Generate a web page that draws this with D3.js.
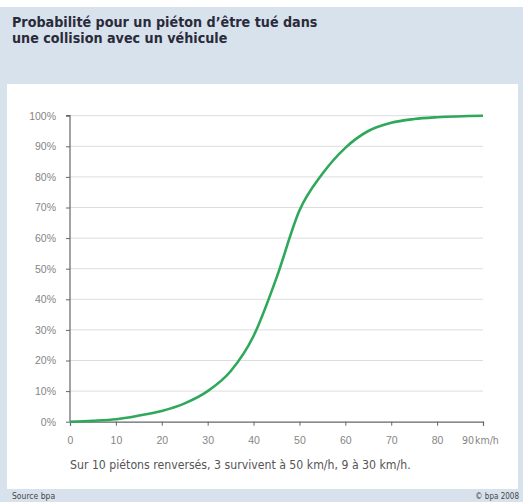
<!DOCTYPE html>
<html>
<head>
<meta charset="utf-8">
<script src="https://cdn.jsdelivr.net/npm/d3@7"></script>
<style>
html, body { margin: 0; padding: 0; background: #fff; }
svg { display: block; font-family: "Liberation Sans Narrow", "DejaVu Sans Condensed", "Open Sans", sans-serif; }
</style>
</head>
<body>
<div id="chart"></div>
<script>
'use strict';

let speeds = [0, 5, 10, 15, 20, 25, 30, 35, 40, 45, 50, 55, 60, 65, 70, 75, 80, 90];
let probs = [0, 0.3, 0.8, 2, 3.5, 6, 10, 16.5, 28, 47, 69, 81, 89.5, 95, 97.7, 98.9, 99.5, 100];
let xticks = [0, 10, 20, 30, 40, 50, 60, 70, 80, 90];
let yticks = [0, 10, 20, 30, 40, 50, 60, 70, 80, 90, 100];
let title = ['Probabilité pour un piéton d\u2019être tué dans', 'une collision avec un véhicule'];
let caption = 'Sur 10 piétons renversés, 3 survivent à 50 km/h, 9 à 30 km/h.';

let W = 523, H = 502;
let svg = d3.select('#chart')
	.append('svg')
		.attr('width', W)
		.attr('height', H)
	;

svg.append('rect').attr('x', 0).attr('y', 7).attr('width', W).attr('height', H - 7).attr('fill', '#d8e2ec');
svg.append('rect').attr('x', 7).attr('y', 84).attr('width', 511).attr('height', 405).attr('fill', '#fff');

let tt = svg.append('text')
	.attr('x', 12)
	.attr('y', 27)
	.attr('fill', '#2a2b3a')
	.attr('font-size', 14.2)
	.attr('font-weight', 'bold')
	;
for (let i=0 ; i<title.length ; ++i) {
	tt.append('tspan').attr('x', 12).attr('dy', i ? 16 : 0).text(title[i]);
}

let x = d3.scaleLinear().domain([0, 90]).range([70, 483]);
let y = d3.scaleLinear().domain([0, 100]).range([421.7, 115.7]);

// grid
svg.append('g')
	.selectAll('line')
	.data(yticks.slice(1))
	.join('line')
		.attr('x1', x(0))
		.attr('x2', x(90))
		.attr('y1', d => y(d))
		.attr('y2', d => y(d))
		.attr('stroke', '#dcdcdc')
		.attr('stroke-width', 1)
	;

let yax = svg.append('g')
	.attr('transform', 'translate(' + x(0) + ',0)')
	.call(d3.axisLeft(y).tickValues(yticks).tickSize(4).tickPadding(10).tickFormat(d => d + '%'))
	;
let xax = svg.append('g')
	.attr('transform', 'translate(0,' + y(0) + ')')
	.call(d3.axisBottom(x).tickValues(xticks).tickSize(4).tickPadding(11).tickFormat(d => d == 90 ? '' : d))
	;
for (let ax of [yax, xax]) {
	ax.select('.domain').attr('stroke', '#666').attr('stroke-width', 1.2);
	ax.selectAll('.tick line').attr('stroke', '#666');
	ax.selectAll('.tick text').attr('fill', '#858585').attr('font-size', 10.5).attr('font-family', null);
}
yax.select('.domain').attr('d', 'M-4,' + y(100) + 'H0V' + y(0));

// last tick label sits left of its tick, followed by the unit
svg.append('text')
	.attr('x', x(90) - 9)
	.attr('y', y(0) + 22.5)
	.attr('text-anchor', 'end')
	.attr('fill', '#858585')
	.attr('font-size', 10.5)
	.text('90')
	;
svg.append('text')
	.attr('x', x(90) - 8)
	.attr('y', y(0) + 22.5)
	.attr('fill', '#858585')
	.attr('font-size', 10.5)
	.text('km/h')
	;

let line = d3.line()
	.x(d => x(d[0]))
	.y(d => y(d[1]))
	.curve(d3.curveMonotoneX)
	;
svg.append('path')
	.datum(d3.zip(speeds, probs))
	.attr('d', line)
	.attr('fill', 'none')
	.attr('stroke', '#2ea85a')
	.attr('stroke-width', 2.6)
	;

svg.append('text')
	.attr('x', 70)
	.attr('y', 469)
	.attr('fill', '#555')
	.attr('font-size', 12.2)
	.text(caption)
	;

svg.append('text').attr('x', 12).attr('y', 499).attr('fill', '#444').attr('font-size', 8.5).text('Source bpa');
svg.append('text').attr('x', 519).attr('y', 499).attr('fill', '#444').attr('font-size', 8).attr('text-anchor', 'end').text('\u00a9 bpa 2008');
</script>
</body>
</html>
